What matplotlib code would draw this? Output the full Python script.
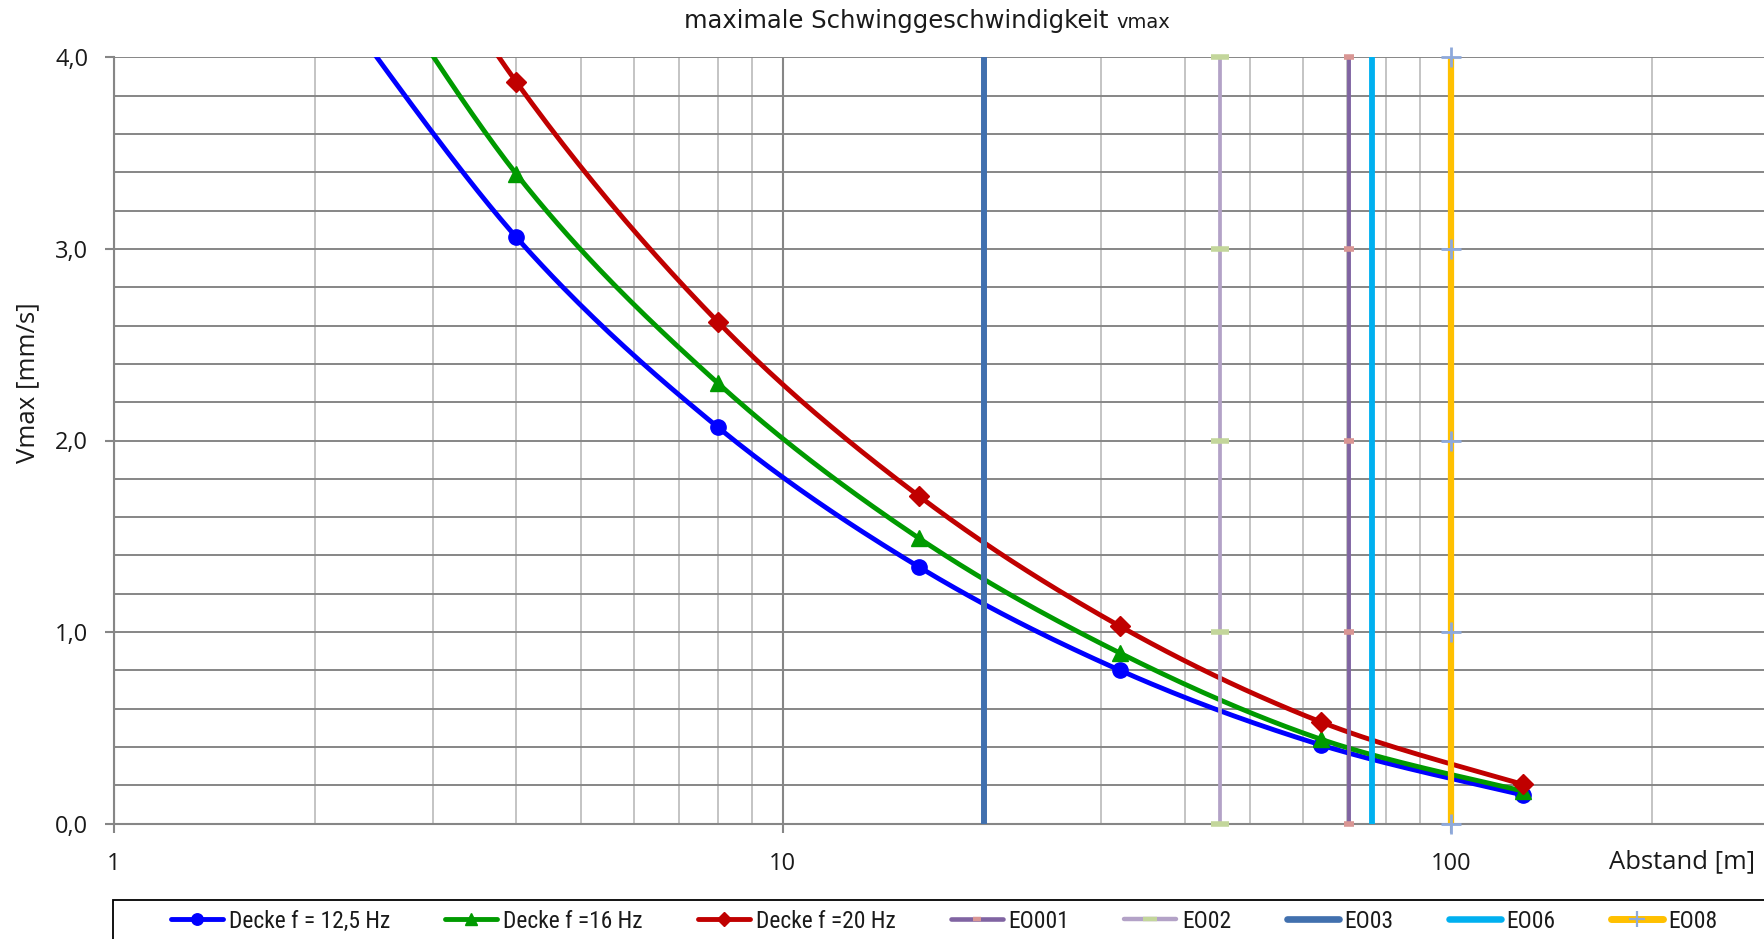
import numpy as np
import matplotlib
matplotlib.use('Agg')
import matplotlib.pyplot as plt
from matplotlib import font_manager
from matplotlib.patches import Rectangle
from matplotlib.lines import Line2D
from matplotlib.ticker import FixedLocator, NullFormatter, FixedFormatter

# ---------------- data ----------------
distance_m = [2, 4, 8, 16, 32, 64, 128]
v_12_5hz = [4.44, 3.06, 2.07, 1.34, 0.80, 0.41, 0.15]
v_16hz = [4.96, 3.39, 2.30, 1.49, 0.89, 0.44, 0.17]
v_20hz = [5.53, 3.87, 2.62, 1.71, 1.03, 0.53, 0.205]
curve_labels = ['Decke f = 12,5 Hz', 'Decke f =16 Hz', 'Decke f =20 Hz']

eo_names = ['EO001', 'EO02', 'EO03', 'EO06', 'EO08']
eo_distance = [70.3, 45.2, 20.0, 76.3, 100.0]
eo_levels = [0, 1, 2, 3, 4]

x_major = [1, 10, 100]
x_tick_labels = ['1', '10', '100']
y_major = [0, 1, 2, 3, 4]
y_tick_labels = ['0,0', '1,0', '2,0', '3,0', '4,0']

# ---------------- fonts ----------------
ttf = font_manager.fontManager.ttflist
available = {f.name for f in ttf}
main_font = 'Open Sans' if 'Open Sans' in available else 'DejaVu Sans'
plt.rcParams['font.family'] = [main_font, 'DejaVu Sans']

legend_family, legend_stretch = None, 'normal'
for cand in ['Liberation Sans Narrow', 'Roboto Condensed', 'Open Sans Condensed']:
    if cand in available:
        legend_family = cand
        break
if legend_family is None:
    if any(f.name == 'DejaVu Sans' and str(f.stretch) in ('condensed', 'semi-condensed', '75', '87.5')
           for f in ttf):
        legend_family, legend_stretch = 'DejaVu Sans', 'condensed'
    elif 'Roboto' in available:
        legend_family = 'Roboto'
    else:
        legend_family = 'DejaVu Sans'

W, H = 1764, 939
fig = plt.figure(figsize=(W / 100, H / 100), dpi=100)
renderer = fig.canvas.get_renderer()


def fit_size(text, target_px, base=20, **kw):
    t = fig.text(0, 0, text, fontsize=base, **kw)
    w = t.get_window_extent(renderer).width
    t.remove()
    return base * target_px / w


# pixel geometry
x_left_px, dec_px = 114, 668.5
y0_px, y4_px = 823.7, 57.3
ax = fig.add_axes([x_left_px / W, 1 - y0_px / H, 1 - x_left_px / W, (y0_px - y4_px) / H])
ax.set_xscale('log')
ax.set_xlim(1, 10 ** ((W - x_left_px) / dec_px))
ax.set_ylim(0, 4)


def smooth(xs, ys, n=40):
    P = np.column_stack([np.log10(xs), np.asarray(ys, float)])
    pts = []
    for i in range(len(P) - 1):
        p0 = P[i - 1] if i > 0 else P[i]
        p1, p2 = P[i], P[i + 1]
        p3 = P[i + 2] if i + 2 < len(P) else P[i + 1]
        c1 = p1 + (p2 - p0) / 6
        c2 = p2 - (p3 - p1) / 6
        t = np.linspace(0, 1, n)[:, None]
        seg = (1 - t) ** 3 * p1 + 3 * (1 - t) ** 2 * t * c1 + 3 * (1 - t) * t ** 2 * c2 + t ** 3 * p2
        pts.append(seg if i == 0 else seg[1:])
    Q = np.vstack(pts)
    return 10 ** Q[:, 0], Q[:, 1], [k * (n - 1) for k in range(len(P))]


curve_colors = ['#0000FF', '#009A00', '#C00000']
curve_markers = ['o', '^', 'D']
curve_ms = [11, 11, 10]
handles = []
for vals, col, mk, ms, lab in zip([v_12_5hz, v_16hz, v_20hz], curve_colors, curve_markers, curve_ms, curve_labels):
    sx, sy, idx = smooth(distance_m, vals)
    ax.plot(sx, sy, color=col, lw=3.5, marker=mk, markersize=ms, markevery=idx,
            markeredgecolor=col, markerfacecolor=col, zorder=3, solid_capstyle='round')
    handles.append(Line2D([], [], color=col, lw=3.5, marker=mk, markersize=ms * 0.75,
                          markeredgecolor=col, markerfacecolor=col, solid_capstyle='round'))

eo_colors = ['#8064A2', '#B3A2C7', '#4170AE', '#00B0F0', '#FFC000']
eo_lw = [2.8, 2.7, 4.3, 4.2, 4.5]
eo_marker = ['_', '_', 'None', 'None', '+']
eo_mcolor = ['#D99694', '#C3D69B', '#4170AE', '#00B0F0', '#8EA9DB']
eo_ms = [7, 13, 0, 0, 14]
eo_mew = [4, 4, 0, 0, 2]
for x, col, lw, mk, mc, ms, mew, lab in zip(eo_distance, eo_colors, eo_lw, eo_marker, eo_mcolor, eo_ms, eo_mew, eo_names):
    ax.plot([x] * len(eo_levels), eo_levels, color=col, lw=lw, marker=mk, markersize=ms,
            markeredgecolor=mc, markerfacecolor=mc, markeredgewidth=mew, zorder=4, clip_on=False,
            solid_capstyle='butt')
    handles.append(Line2D([], [], color=col, lw=lw + 0.5, marker=mk, markersize=ms * 0.8,
                          markeredgecolor=mc, markerfacecolor=mc, markeredgewidth=mew * 0.8,
                          solid_capstyle='round'))

# ---------------- axes styling ----------------
grid_dark = '#868686'
grid_light = '#BFBFBF'
for s in ['top', 'right']:
    ax.spines[s].set_visible(False)
for s in ['left', 'bottom']:
    ax.spines[s].set_color(grid_dark)
    ax.spines[s].set_linewidth(1.5)

ax.xaxis.set_major_locator(FixedLocator(x_major))
ax.xaxis.set_major_formatter(FixedFormatter(x_tick_labels))
minor_x = [m * d for d in [1, 10, 100] for m in range(2, 10)]
ax.xaxis.set_minor_locator(FixedLocator(minor_x))
ax.xaxis.set_minor_formatter(NullFormatter())
ax.yaxis.set_major_locator(FixedLocator(y_major))
ax.yaxis.set_major_formatter(FixedFormatter(y_tick_labels))
ax.yaxis.set_minor_locator(FixedLocator(np.arange(0.2, 4.0, 0.2)))

ax.tick_params(axis='both', which='major', direction='out', length=6.5, width=1.5,
               color=grid_dark, labelsize=17, labelcolor='#1a1a1a')
ax.tick_params(axis='y', which='major', pad=12)
ax.tick_params(axis='x', which='major', pad=14)
ax.tick_params(axis='both', which='minor', length=0)

ax.set_axisbelow(True)
ax.grid(True, axis='x', which='major', color=grid_dark, lw=1.5)
ax.grid(True, axis='x', which='minor', color=grid_light, lw=1.3)
ax.grid(True, axis='y', which='both', color=grid_dark, lw=1.4)

# ---------------- text ----------------
title_main = 'maximale Schwinggeschwindigkeit '
title_sub = 'vmax'
ts = fit_size(title_main, 458, family=['DejaVu Sans'])
ts = min(ts, 17.5)
fig.text(1116 / W, 1 - 21 / H, title_main, ha='right', va='center', fontsize=ts,
         color='#1a1a1a', family=['DejaVu Sans'])
fig.text(1116 / W, 1 - 23 / H, title_sub, ha='left', va='center', fontsize=ts * 0.8,
         color='#1a1a1a', family=['DejaVu Sans'])

ylab = 'Vmax [mm/s]'
xlab = 'Abstand [m]'
ys = fit_size(ylab, 160)
xs = fit_size(xlab, 146)
fig.text(28 / W, 1 - 383 / H, ylab, rotation=90, ha='center', va='center',
         fontsize=ys, color='#1a1a1a')
fig.text(1755 / W, 1 - 862 / H, xlab, ha='right', va='center', fontsize=xs, color='#1a1a1a')

# ---------------- legend ----------------
fig.patches.append(Rectangle((112.5 / W, -0.05), 1.2, (H - 900) / H + 0.05, transform=fig.transFigure,
                             fill=False, edgecolor='#000000', lw=1.3, clip_on=False))
lf = fit_size(curve_labels[0], 161, family=[legend_family], fontstretch=legend_stretch)
lf_px = lf * 100 / 72
leg = fig.legend(handles, curve_labels + eo_names, loc='center left',
                 bbox_to_anchor=(171 / W, 1 - 921 / H), bbox_transform=fig.transFigure,
                 ncol=8, frameon=False, borderpad=0, borderaxespad=0,
                 handlelength=52 / lf_px, handletextpad=6 / lf_px, columnspacing=55 / lf_px,
                 prop={'family': [legend_family, 'DejaVu Sans'], 'size': lf, 'stretch': legend_stretch})
for t in leg.get_texts():
    t.set_color('#1a1a1a')

fig.savefig('out.png', dpi=100)
